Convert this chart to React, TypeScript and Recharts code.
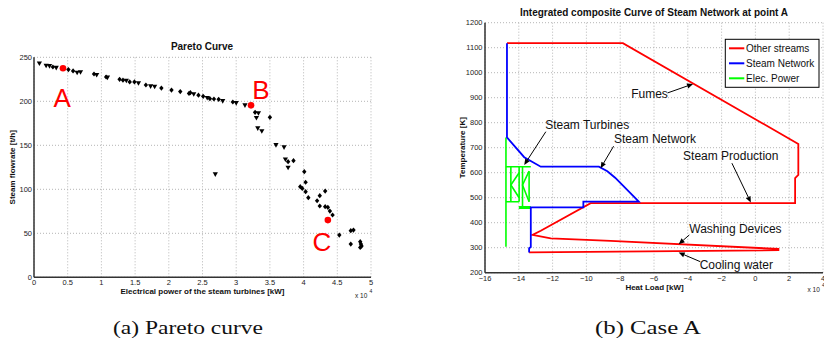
import React from 'react';
import {
  ScatterChart, Scatter, LineChart, Line, XAxis, YAxis, CartesianGrid, ReferenceDot, ReferenceLine,
} from 'recharts';

const FONT = '"Liberation Sans", Arial, Helvetica, sans-serif';
const SERIF = '"Liberation Serif", "Times New Roman", serif';

// ---------- (a) Pareto curve ----------
const paretoXTicks = [0, 5000, 10000, 15000, 20000, 25000, 30000, 35000, 40000, 45000, 50000];
const paretoYTicks = [0, 50, 100, 150, 200, 250];

const paretoTriangles = [
  { x: 800, y: 243 }, { x: 1800, y: 240.5 }, { x: 2300, y: 240 }, { x: 3300, y: 238 },
  { x: 6400, y: 232.5 }, { x: 6900, y: 233 }, { x: 9300, y: 230 }, { x: 10900, y: 227 },
  { x: 13700, y: 223.4 }, { x: 15500, y: 220.5 }, { x: 17300, y: 217 }, { x: 17900, y: 216.6 },
  { x: 23700, y: 208 }, { x: 25700, y: 203.8 }, { x: 28000, y: 200.3 }, { x: 30000, y: 198 },
  { x: 31300, y: 195.4 }, { x: 33300, y: 186.4 }, { x: 33000, y: 181 }, { x: 33200, y: 169.3 },
  { x: 33800, y: 166 }, { x: 35900, y: 150.3 }, { x: 37100, y: 147.7 }, { x: 37300, y: 134 },
  { x: 37700, y: 124.6 }, { x: 26900, y: 117 },
];

const paretoDiamonds = [
  { x: 2800, y: 239 }, { x: 5100, y: 236 }, { x: 5800, y: 234.5 }, { x: 8900, y: 231 },
  { x: 10700, y: 227.6 }, { x: 12700, y: 225 }, { x: 13200, y: 224 }, { x: 14200, y: 222 },
  { x: 14900, y: 222 }, { x: 16600, y: 218.5 }, { x: 18900, y: 215 }, { x: 20400, y: 212.8 },
  { x: 21700, y: 211 }, { x: 23000, y: 209 }, { x: 23200, y: 209.8 }, { x: 24400, y: 207 },
  { x: 25100, y: 205.7 }, { x: 26100, y: 203 }, { x: 26700, y: 202.6 }, { x: 27400, y: 202.3 },
  { x: 29500, y: 199.2 }, { x: 32800, y: 187.5 }, { x: 35000, y: 181.8 }, { x: 37700, y: 131.4 },
  { x: 38500, y: 132.5 }, { x: 40100, y: 120 }, { x: 40300, y: 108 }, { x: 39500, y: 103 },
  { x: 39800, y: 101 }, { x: 40300, y: 97.3 }, { x: 40700, y: 90.5 }, { x: 43200, y: 98 },
  { x: 42400, y: 92.7 }, { x: 42000, y: 87 }, { x: 42400, y: 81 }, { x: 43200, y: 80.3 },
  { x: 43600, y: 79.5 }, { x: 43900, y: 75.3 }, { x: 44300, y: 70.8 }, { x: 45300, y: 48 },
  { x: 47000, y: 53 }, { x: 47400, y: 53.7 }, { x: 47000, y: 37.8 }, { x: 48400, y: 40.5 },
  { x: 48500, y: 37.8 }, { x: 48600, y: 35.5 }, { x: 48400, y: 34 },
];

const paretoSelected = [
  { x: 4300, y: 237.5 }, { x: 32200, y: 195.4 }, { x: 43600, y: 65 },
];

const paretoLabels = [
  { label: 'A', x: 4180, y: 203.4 },
  { label: 'B', x: 33660, y: 212.8 },
  { label: 'C', x: 42700, y: 40.5 },
];

// ---------- (b) Case A ----------
const heatXTicks = [-16, -14, -12, -10, -8, -6, -4, -2, 0, 2, 4];
const tempYTicks = [200, 300, 400, 500, 600, 700, 800, 900, 1000, 1100, 1200];

const otherStreams = [
  { x: -14.7, y: 1118 }, { x: -7.84, y: 1118 }, { x: 2.54, y: 715 }, { x: 2.54, y: 591 },
  { x: 2.35, y: 578 }, { x: 2.35, y: 478 }, { x: -9.75, y: 478 }, { x: -12.7, y: 368 },
  { x: -13.19, y: 351 }, { x: -12.11, y: 337 }, { x: -8.57, y: 327 }, { x: 1.36, y: 295 },
  { x: 1.36, y: 290 }, { x: -13.39, y: 281 },
];

const steamNetwork = [
  { x: -14.7, y: 1118 }, { x: -14.7, y: 741 }, { x: -13.68, y: 662 }, { x: -12.7, y: 624 },
  { x: -9.26, y: 624 }, { x: -8.76, y: 606 }, { x: -8.3, y: 580 }, { x: -6.9, y: 484 },
  { x: -10.18, y: 484 }, { x: -10.18, y: 461 }, { x: -13.29, y: 461 }, { x: -13.29, y: 303 },
  { x: -13.39, y: 298 }, { x: -13.39, y: 281 },
];

const elecPowerSegments = [
  [{ x: -14.76, y: 304 }, { x: -14.76, y: 741 }],
  [{ x: -14.76, y: 624 }, { x: -13.29, y: 624 }],
  [{ x: -14.76, y: 484 }, { x: -13.98, y: 484 }],
  [{ x: -14.47, y: 624 }, { x: -14.47, y: 484 }],
  [{ x: -13.98, y: 600 }, { x: -14.47, y: 551 }, { x: -13.98, y: 500 }],
  [{ x: -13.98, y: 624 }, { x: -13.98, y: 484 }],
  [{ x: -13.78, y: 624 }, { x: -13.78, y: 458 }],
  [{ x: -13.39, y: 606 }, { x: -13.78, y: 551 }, { x: -13.39, y: 484 }],
  [{ x: -13.39, y: 606 }, { x: -13.39, y: 484 }],
];
const elecPowerBar = [{ x: -14.0, y: 461 }, { x: -13.29, y: 461 }];

const annotations = [
  { label: 'Steam Turbines', tx: -12.44, ty: 791, x1: -12.4, y1: 764, x2: -13.68, y2: 631 },
  { label: 'Steam Network', tx: -8.37, ty: 734, x1: -8.39, y1: 706, x2: -9.16, y2: 618 },
  { label: 'Fumes', tx: -7.35, ty: 915, x1: -5.2, y1: 919, x2: -3.69, y2: 955 },
  { label: 'Steam Production', tx: -4.28, ty: 668, x1: -1.39, y1: 638, x2: -0.27, y2: 481 },
  { label: 'Washing Devices', tx: -3.91, ty: 375, x1: -3.91, y1: 351, x2: -4.54, y2: 314 },
  { label: 'Cooling water', tx: -3.3, ty: 231, x1: -3.26, y1: 244, x2: -4.54, y2: 281 },
];

const legendItems = [
  { name: 'Other streams', color: '#ff0000' },
  { name: 'Steam Network', color: '#0000ff' },
  { name: 'Elec. Power', color: '#00ff00' },
];

// ---------- helpers ----------
const TriDown = (p: any) => {
  const { cx, cy } = p;
  return <polygon points={`${cx - 2.6},${cy - 2} ${cx + 2.6},${cy - 2} ${cx},${cy + 2.6}`} fill="#000" />;
};
const Diamond = (p: any) => {
  const { cx, cy } = p;
  return <polygon points={`${cx},${cy - 2.6} ${cx + 2.2},${cy} ${cx},${cy + 2.6} ${cx - 2.2},${cy}`} fill="#000" />;
};
const RedDot = (p: any) => <circle cx={p.cx} cy={p.cy} r={3.3} fill="#ff0000" />;

const Arrow = (p: any) => {
  const { x1, y1, x2, y2 } = p;
  const a = Math.atan2(y2 - y1, x2 - x1);
  const L = 6, W = 2.6;
  const bx = x2 - L * Math.cos(a), by = y2 - L * Math.sin(a);
  const px = -Math.sin(a) * W, py = Math.cos(a) * W;
  return (
    <g>
      <line x1={x1} y1={y1} x2={bx} y2={by} stroke="#000" strokeWidth={1} />
      <polygon points={`${x2},${y2} ${bx + px},${by + py} ${bx - px},${by - py}`} fill="#000" />
    </g>
  );
};

const tickStyle = { fontSize: 7.5, fill: '#222', fontFamily: FONT };
const axisLine = { stroke: '#333', strokeWidth: 1.5 };
const minus = (v: number) => (v < 0 ? '\u2212' + Math.abs(v) : String(v));

export default function App() {
  return (
    <div style={{ position: 'absolute', left: 0, top: 0, width: 824, height: 345, background: '#fff', overflow: 'hidden' }}>
      {/* (a) Pareto */}
      <div style={{ position: 'absolute', left: 0, top: 0 }}>
        <ScatterChart width={390} height={345} margin={{ top: 57.3, right: 19, bottom: 47.7, left: 0 }}>
          <CartesianGrid stroke="#b5b5b5" strokeDasharray="1 2" />
          <XAxis type="number" dataKey="x" domain={[0, 50000]} ticks={paretoXTicks} tickFormatter={(v: number) => String(v / 1e4)}
            tick={tickStyle} tickLine={false} tickSize={0} tickMargin={2.5} axisLine={axisLine} height={20} interval={0} />
          <YAxis type="number" dataKey="y" domain={[0, 250]} ticks={paretoYTicks}
            tick={tickStyle} tickLine={false} tickSize={0} tickMargin={2} axisLine={axisLine} width={34} interval={0} />
          <Scatter data={paretoTriangles} shape={TriDown} isAnimationActive={false} />
          <Scatter data={paretoDiamonds} shape={Diamond} isAnimationActive={false} />
          <Scatter data={paretoSelected} shape={RedDot} isAnimationActive={false} />
          {paretoLabels.map((l) => (
            <ReferenceDot key={l.label} x={l.x} y={l.y} r={0}
              shape={(p: any) => (
                <text x={p.cx} y={p.cy} textAnchor="middle" dominantBaseline="central" fill="#ff0000"
                  fontSize={26} fontFamily={FONT}>{l.label}</text>
              )} />
          ))}
        </ScatterChart>
      </div>

      {/* (b) Case A */}
      <div style={{ position: 'absolute', left: 420, top: 0 }}>
        <LineChart width={404} height={345} margin={{ top: 22.7, right: 1, bottom: 52.3, left: 0 }}>
          <CartesianGrid stroke="#b5b5b5" strokeDasharray="1 2" />
          <XAxis type="number" dataKey="x" domain={[-16, 4]} ticks={heatXTicks} tickFormatter={minus}
            tick={tickStyle} tickLine={false} tickSize={0} tickMargin={2.5} axisLine={axisLine} height={20} interval={0} allowDataOverflow />
          <YAxis type="number" domain={[200, 1200]} ticks={tempYTicks}
            tick={tickStyle} tickLine={false} tickSize={0} tickMargin={2.5} axisLine={axisLine} width={65} interval={0} allowDataOverflow />
          {elecPowerSegments.map((seg, i) => (
            <Line key={'e' + i} data={seg} dataKey="y" type="linear" stroke="#00ff00" strokeWidth={1.6}
              dot={false} activeDot={false} isAnimationActive={false} />
          ))}
          <Line data={elecPowerBar} dataKey="y" type="linear" stroke="#00ff00" strokeWidth={3}
            dot={false} activeDot={false} isAnimationActive={false} />
          <Line data={otherStreams} dataKey="y" type="linear" stroke="#ff0000" strokeWidth={1.8}
            dot={false} activeDot={false} isAnimationActive={false} />
          <Line data={steamNetwork} dataKey="y" type="linear" stroke="#0000ff" strokeWidth={1.8}
            dot={false} activeDot={false} isAnimationActive={false} />
          {annotations.map((a) => (
            <ReferenceLine key={'l' + a.label} segment={[{ x: a.x1, y: a.y1 }, { x: a.x2, y: a.y2 }]}
              shape={(p: any) => <Arrow {...p} />} />
          ))}
          {annotations.map((a) => (
            <ReferenceDot key={'t' + a.label} x={a.tx} y={a.ty} r={0}
              shape={(p: any) => (
                <text x={p.cx} y={p.cy} textAnchor="start" dominantBaseline="central" fill="#111"
                  fontSize={12} fontFamily={FONT}>{a.label}</text>
              )} />
          ))}
        </LineChart>
      </div>

      {/* overlay texts */}
      <svg width={824} height={345} style={{ position: 'absolute', left: 0, top: 0, pointerEvents: 'none' }}
        fontFamily={FONT}>
        <text x={202} y={50} textAnchor="middle" fontSize={10} fontWeight="bold" fill="#111">Pareto Curve</text>
        <text x={654} y={16} textAnchor="middle" fontSize={10} fontWeight="bold" fill="#111">Integrated composite Curve of Steam Network at point A</text>

        <text x={202.5} y={293.5} textAnchor="middle" fontSize={8} fontWeight="bold" fill="#111">Electrical power of the steam turbines [kW]</text>
        <text x={654.5} y={289.5} textAnchor="middle" fontSize={8} fontWeight="bold" fill="#111">Heat Load [kW]</text>

        <text transform="translate(15,167.3) rotate(-90)" textAnchor="middle" fontSize={8} fontWeight="bold" fill="#111">Steam flowrate [t/h]</text>
        <text transform="translate(464.5,147.7) rotate(-90)" textAnchor="middle" fontSize={8} fontWeight="bold" fill="#111">Temperature [K]</text>

        <text x={355} y={298} fontSize={6.5} fill="#222">x 10</text>
        <text x={369.5} y={293} fontSize={5} fill="#222">4</text>
        <text x={807.5} y={292} fontSize={6.5} fill="#222">x 10</text>
        <text x={822} y={287} fontSize={5} fill="#222">4</text>

        <g>
          <rect x={725.3} y={39.3} width={93.7} height={48} fill="#fff" stroke="#000" strokeWidth={1} />
          {legendItems.map((it, i) => (
            <g key={it.name}>
              <line x1={729} x2={744.3} y1={48.3 + i * 15} y2={48.3 + i * 15} stroke={it.color} strokeWidth={2} />
              <text x={746} y={48.3 + i * 15} dominantBaseline="central" fontSize={10} fill="#111">{it.name}</text>
            </g>
          ))}
        </g>

        <text x={113} y={334} fontFamily={SERIF} fontSize={19} fill="#111" textLength={150} lengthAdjust="spacingAndGlyphs">(a) Pareto curve</text>
        <text x={595} y={334} fontFamily={SERIF} fontSize={19} fill="#111" textLength={106} lengthAdjust="spacingAndGlyphs">(b) Case A</text>
      </svg>
    </div>
  );
}
